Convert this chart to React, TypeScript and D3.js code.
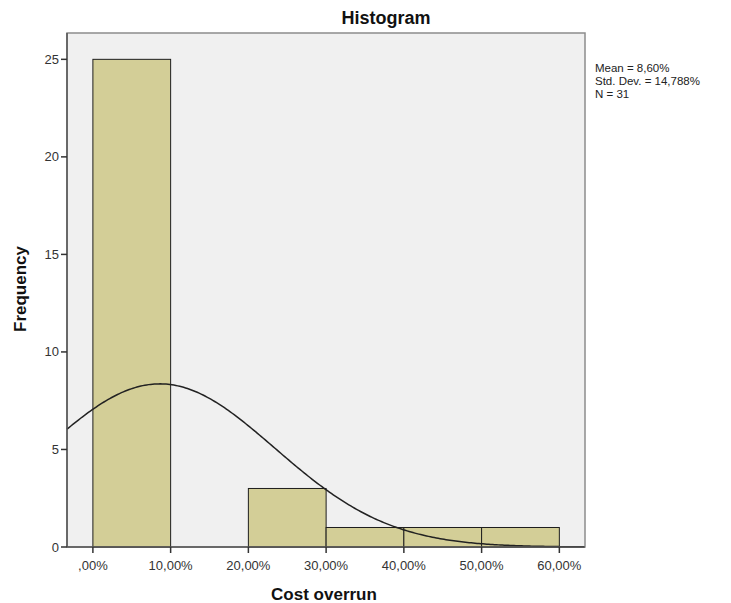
import React, { useEffect, useRef } from "react";
import * as d3 from "d3";

// bins of cost overrun (%) and their counts
const binStarts = [0, 20, 30, 40, 50];
const binEnds = [10, 30, 40, 50, 60];
const counts = [25, 3, 1, 1, 1];

const xTicks = [0, 10, 20, 30, 40, 50, 60];
const xTickLabels = [",00%", "10,00%", "20,00%", "30,00%", "40,00%", "50,00%", "60,00%"];
const yTicks = [0, 5, 10, 15, 20, 25];

const mean = 8.6;
const stdDev = 14.788;
const n = 31;
const binWidth = 10;
const statLines = ["Mean = 8,60%", "Std. Dev. = 14,788%", "N = 31"];

const App = () => {
  const ref = useRef<SVGSVGElement>(null);

  useEffect(() => {
    const width = 731;
    const height = 603;
    const left = 67, right = 585, top = 33, bottom = 547;

    const svg = d3.select(ref.current);
    svg.selectAll("*").remove();
    svg.attr("width", width).attr("height", height);

    const x = d3.scaleLinear().domain([-3.33, 63.3]).range([left, right]);
    const y = d3.scaleLinear().domain([0, 26.35]).range([bottom, top]);

    const font = "Arial, 'Liberation Sans', sans-serif";

    // plot background
    svg.append("rect")
      .attr("x", left)
      .attr("y", top)
      .attr("width", right - left)
      .attr("height", bottom - top)
      .attr("fill", "#f0f0f0")
      .attr("stroke", "#8c8c8c")
      .attr("stroke-width", 1.5);

    // bars
    const bins = counts.map((c, i) => ({ x0: binStarts[i], x1: binEnds[i], count: c }));
    svg.selectAll("rect.bar")
      .data(bins)
      .enter()
      .append("rect")
      .attr("class", "bar")
      .attr("x", d => x(d.x0))
      .attr("y", d => y(d.count))
      .attr("width", d => x(d.x1) - x(d.x0))
      .attr("height", d => y(0) - y(d.count))
      .attr("fill", "#d3ce97")
      .attr("stroke", "#1e1e1e")
      .attr("stroke-width", 1);

    // normal curve
    const pdf = (v: number) =>
      (n * binWidth) / (stdDev * Math.sqrt(2 * Math.PI)) *
      Math.exp(-0.5 * Math.pow((v - mean) / stdDev, 2));
    const xs = d3.range(x.domain()[0], x.domain()[1] + 0.001, 0.25);
    const line = d3.line<number>().x(d => x(d)).y(d => y(pdf(d)));
    svg.append("path")
      .datum(xs)
      .attr("d", line)
      .attr("fill", "none")
      .attr("stroke", "#222")
      .attr("stroke-width", 1.5);

    // axes lines
    svg.append("line")
      .attr("x1", left).attr("x2", left)
      .attr("y1", top).attr("y2", bottom)
      .attr("stroke", "#555").attr("stroke-width", 1.5);
    svg.append("line")
      .attr("x1", left).attr("x2", right)
      .attr("y1", bottom).attr("y2", bottom)
      .attr("stroke", "#555").attr("stroke-width", 1.5);

    // y ticks
    const yg = svg.append("g");
    yg.selectAll("line")
      .data(yTicks)
      .enter()
      .append("line")
      .attr("x1", left - 6)
      .attr("x2", left)
      .attr("y1", d => y(d))
      .attr("y2", d => y(d))
      .attr("stroke", "#333")
      .attr("stroke-width", 1.5);
    yg.selectAll("text")
      .data(yTicks)
      .enter()
      .append("text")
      .attr("x", left - 8)
      .attr("y", d => y(d) + 4.5)
      .attr("text-anchor", "end")
      .attr("font-family", font)
      .attr("font-size", 13)
      .attr("fill", "#333")
      .text(d => d);

    // x ticks
    const xg = svg.append("g");
    xg.selectAll("line")
      .data(xTicks)
      .enter()
      .append("line")
      .attr("x1", d => x(d))
      .attr("x2", d => x(d))
      .attr("y1", bottom)
      .attr("y2", bottom + 6)
      .attr("stroke", "#333")
      .attr("stroke-width", 1.5);
    xg.selectAll("text")
      .data(xTicks)
      .enter()
      .append("text")
      .attr("x", d => x(d))
      .attr("y", bottom + 23)
      .attr("text-anchor", "middle")
      .attr("font-family", font)
      .attr("font-size", 13)
      .attr("fill", "#333")
      .text((d, i) => xTickLabels[i]);

    // title
    svg.append("text")
      .attr("x", 386)
      .attr("y", 24)
      .attr("text-anchor", "middle")
      .attr("font-family", font)
      .attr("font-size", 18)
      .attr("font-weight", "bold")
      .attr("fill", "#111")
      .text("Histogram");

    // x label
    svg.append("text")
      .attr("x", 324)
      .attr("y", 600)
      .attr("text-anchor", "middle")
      .attr("font-family", font)
      .attr("font-size", 17)
      .attr("font-weight", "bold")
      .attr("fill", "#111")
      .text("Cost overrun");

    // y label
    svg.append("text")
      .attr("transform", `translate(26, 289) rotate(-90)`)
      .attr("text-anchor", "middle")
      .attr("font-family", font)
      .attr("font-size", 17)
      .attr("font-weight", "bold")
      .attr("fill", "#111")
      .text("Frequency");

    // stats
    svg.append("g")
      .selectAll("text")
      .data(statLines)
      .enter()
      .append("text")
      .attr("x", 595)
      .attr("y", (d, i) => 72 + i * 13)
      .attr("font-family", font)
      .attr("font-size", 11.5)
      .attr("fill", "#222")
      .text(d => d);
  }, []);

  return <svg ref={ref} style={{ position: "absolute", left: 0, top: 0 }} />;
};

export default App;
